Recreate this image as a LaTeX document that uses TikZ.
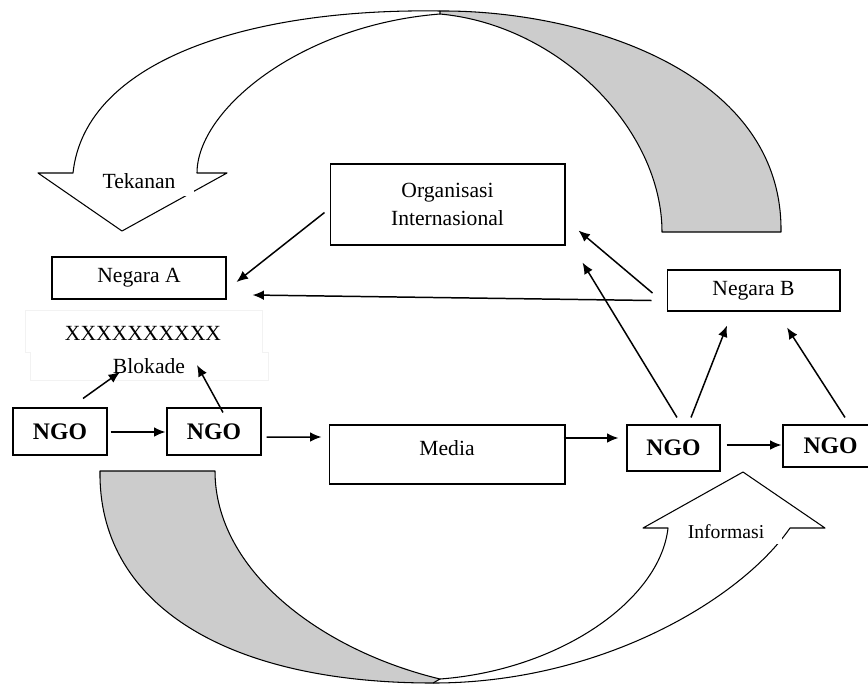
\documentclass[tikz,border=0pt]{standalone}
\usepackage{fontspec}
\setmainfont{Liberation Serif}
\usetikzlibrary{arrows.meta,calc}
\begin{document}
\begin{tikzpicture}[x=0.02cm,y=-0.02cm,
  box/.style={draw,line width=0.6pt,rectangle,inner sep=0pt,font=\fontsize{12.3}{14}\selectfont},
  ngo/.style={box,font=\fontsize{13.5}{15}\selectfont\bfseries},
  arr/.style={line width=0.85pt,-{Latex[length=6.5pt,width=5.5pt]}},
  big/.style={draw,line width=0.6pt,line join=round},
  lbl/.style={font=\fontsize{12.3}{14}\selectfont,inner sep=0pt},
  mask/.style={fill=white,inner xsep=0.4cm,inner ysep=0.12cm}]
\useasboundingbox (0,0) rectangle (868,684);

% ---- big twisted arrow at the top (Tekanan)
\filldraw[big,fill=gray!40] (662,232) -- (781,232) .. controls (783,70) and (580,10) .. (440,11) -- (440,14) .. controls (560,25) and (662,130) .. (662,232) -- cycle;
\draw[big] (440,11) .. controls (250,8) and (85,60) .. (73,173) -- (38,173) -- (122,231) -- (227,173) -- (197,173) .. controls (197,110) and (300,25) .. (440,14);
\node[lbl,mask,inner xsep=0.38cm,inner ysep=0.14cm] (tek) at (139,181) {Tekanan};

% ---- big twisted arrow at the bottom (Informasi)
\filldraw[big,fill=gray!40] (100,471) -- (215,471) .. controls (215,570) and (320,650) .. (440,679) -- (433,683) .. controls (220,683) and (98,600) .. (100,471) -- cycle;
\draw[big] (433,683) .. controls (600,683) and (740,600) .. (790,528) -- (825,528) -- (743,472) -- (643,528) -- (668,528) .. controls (660,600) and (560,670) .. (440,679);
\node[lbl,mask,font=\fontsize{11.2}{13}\selectfont,inner xsep=0.36cm,inner ysep=0.1cm] (inf) at (726,532) {Informasi};

% ---- faint text frame round the blockade
\draw[black!5,line width=0.5pt] (25,310) -- (262,310) -- (262,352) -- (268,352) -- (268,380) -- (30,380) -- (30,352) -- (25,352) -- cycle;

% ---- boxes
\node[box,minimum width=4.7cm,minimum height=1.62cm,align=center] (org) at (447.5,204.5) {Organisasi\\[2.2pt]Internasional};
\node[box,minimum width=3.48cm,minimum height=0.84cm] (negA) at (139,278) {Negara A};
\node[box,minimum width=3.46cm,minimum height=0.82cm] (negB) at (753.5,290.5) {Negara B};
\node[lbl] (xx) at (143,333) {XXXXXXXXXX};
\node[lbl] (blok) at (149,366) {Blokade};
\node[ngo,minimum width=1.88cm,minimum height=0.94cm] (ngo1) at (60,431.5) {NGO};
\node[ngo,minimum width=1.88cm,minimum height=0.94cm] (ngo2) at (214,431.5) {NGO};
\node[box,minimum width=4.72cm,minimum height=1.18cm] (media) at (447,454.5) {};
\node[lbl] (medialbl) at (447,448) {Media};
\node[ngo,minimum width=1.86cm,minimum height=0.92cm] (ngo3) at (673.5,448) {NGO};
\node[ngo,minimum width=1.9cm,minimum height=0.84cm] (ngo4) at (830.5,446) {NGO};

% ---- connectors
\draw[arr] ($(org.west)+(-5,8)$) -- ($(negA.east)+(10,4)$);
\draw[arr] ($(negB.west)+(-15,10)$) -- ($(negA.east)+(26,17)$);
\draw[arr] ($(negB.west)+(-14,2.5)$) -- ($(org.south east)+(13,-15)$);
\draw[arr] ($(ngo3.north)+(3.5,-7)$) -- ($(org.south east)+(17,17)$);
\draw[arr] ($(ngo3.north)+(17.5,-7)$) -- ($(negB.south)+(-26.5,14)$);
\draw[arr] ($(ngo4.north)+(14.5,-7)$) -- ($(negB.south)+(33.5,16)$);
\draw[arr] ($(ngo1.north)+(23,-9)$) -- ($(blok.center)+(-29,6)$);
\draw[arr] ($(ngo2.north)+(9,5)$) -- ($(blok.center)+(48,-1)$);
\draw[arr] ($(ngo1.east)+(3,0.5)$) -- ($(ngo2.west)+(-1,0.5)$);
\draw[arr] ($(ngo2.east)+(5,5.5)$) -- ($(media.west)+(-7,-17.5)$);
\draw[arr] ($(media.east)+(-2,-16.5)$) -- ($(ngo3.west)+(-8,-10)$);
\draw[arr] ($(ngo3.east)+(6,-3)$) -- ($(ngo4.west)+(-1,-1)$);
\end{tikzpicture}
\end{document}
